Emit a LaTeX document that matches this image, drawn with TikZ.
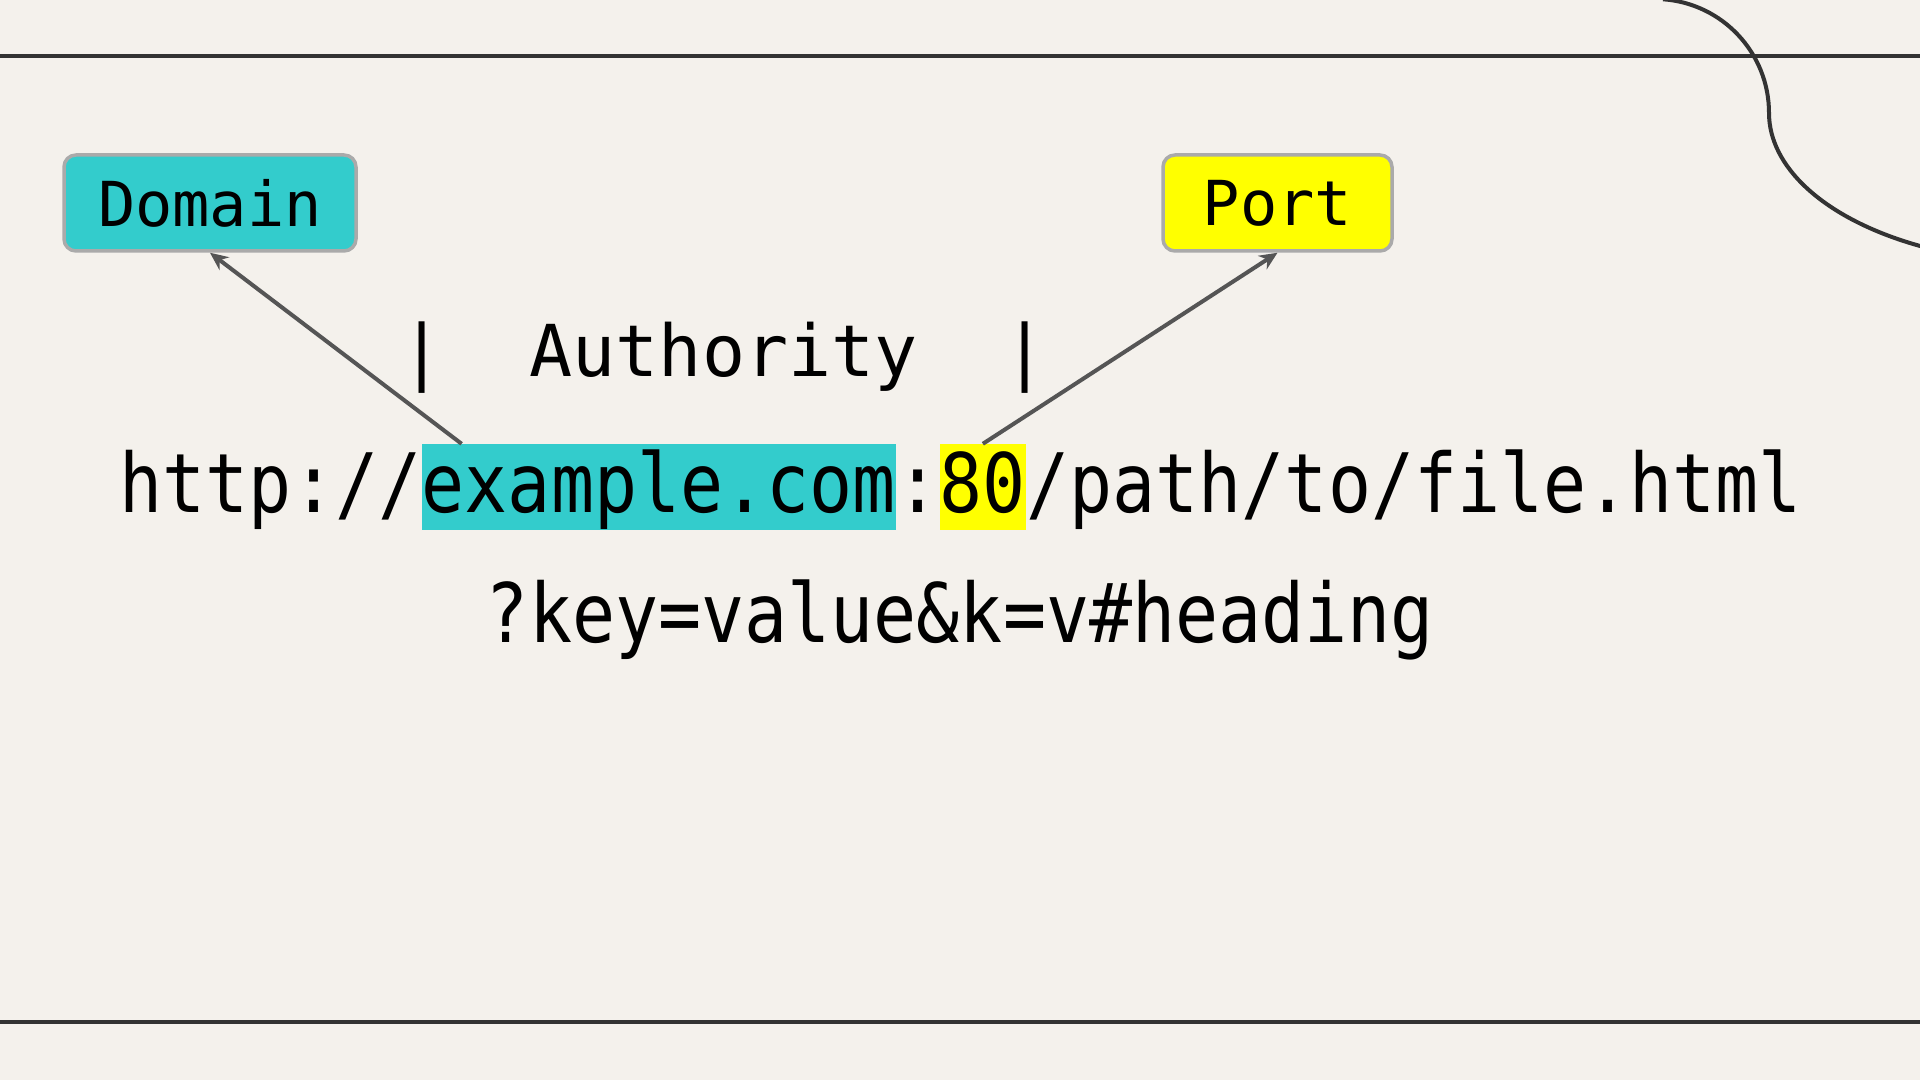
\documentclass[tikz,border=0pt]{standalone}
\usepackage{fontspec}
\usepackage{tikz}
\usetikzlibrary{calc}
\usetikzlibrary{arrows.meta}
\definecolor{paper}{HTML}{F4F1EC}
\definecolor{hlcyan}{HTML}{33CCCC}
\definecolor{hlyellow}{HTML}{FFFF00}
\definecolor{ink}{HTML}{333333}
\definecolor{arrowgray}{HTML}{555555}
\definecolor{rimgray}{HTML}{AAAAAA}
\newfontfamily\urlfont[FakeStretch=0.873]{DejaVu Sans Mono}
\newfontfamily\tagfont{DejaVu Sans Mono}

\begin{document}
\begin{tikzpicture}[x=1pt,y=1pt,
        urlpart/.style={anchor=base west,inner sep=0pt,text height=69pt,text depth=17pt,
            font=\urlfont\fontsize{82}{90}\selectfont},
        tag/.style={draw=rimgray,line width=3.5pt,rounded corners=12pt,minimum height=96pt,
            font=\tagfont\fontsize{62}{70}\selectfont},
        pointer/.style={draw=arrowgray,line width=4pt,-{Stealth[length=18pt,width=16pt]}}]
            \fill[paper] (0,0) rectangle (1920,1080);
            \useasboundingbox (0,0) rectangle (1920,1080);

            \draw[ink,line width=4.5pt] (0,1024) -- (1920,1024) (0,58) -- (1920,58);
            \begin{scope}
                \clip (0,0) rectangle (1920,1080);
                \draw[ink,line width=4pt] (1655,967) ++(86:114)
                    arc[start angle=86,end angle=0,radius=114]
                    arc[start angle=180,end angle=275,x radius=281,y radius=150];
            \end{scope}

            \node[urlpart] (scheme) at (119.5,567) {http://};
            \node[urlpart,fill=hlcyan] (host) at (scheme.base east) {example.com};
            \node[urlpart] (colon) at (host.base east) {:};
            \node[urlpart,fill=hlyellow] (portnum) at (colon.base east) {80};
            \node[urlpart] (path) at (portnum.base east) {/path/to/file.html};
            \node[urlpart,anchor=base] (query) at (960,437) {?key=value\&k=v\#heading};

            \node[font=\tagfont\fontsize{71.6}{80}\selectfont,anchor=base] (authority) at (723.6,703) {|\ \ Authority\ \ |};

            \node[tag,fill=hlcyan,minimum width=292pt] (domain) at (210,877) {Domain};
            \node[tag,fill=hlyellow,minimum width=229pt] (port) at (1277.5,877) {Port};

            \coordinate (hostpin) at ($(host.north west)+(40,0)$);
            \foreach \from/\to in {hostpin/domain.south,portnum.north/port.south} {
                \draw[pointer] (\from) -- (\to);
            }
        \end{tikzpicture}
\end{document}
